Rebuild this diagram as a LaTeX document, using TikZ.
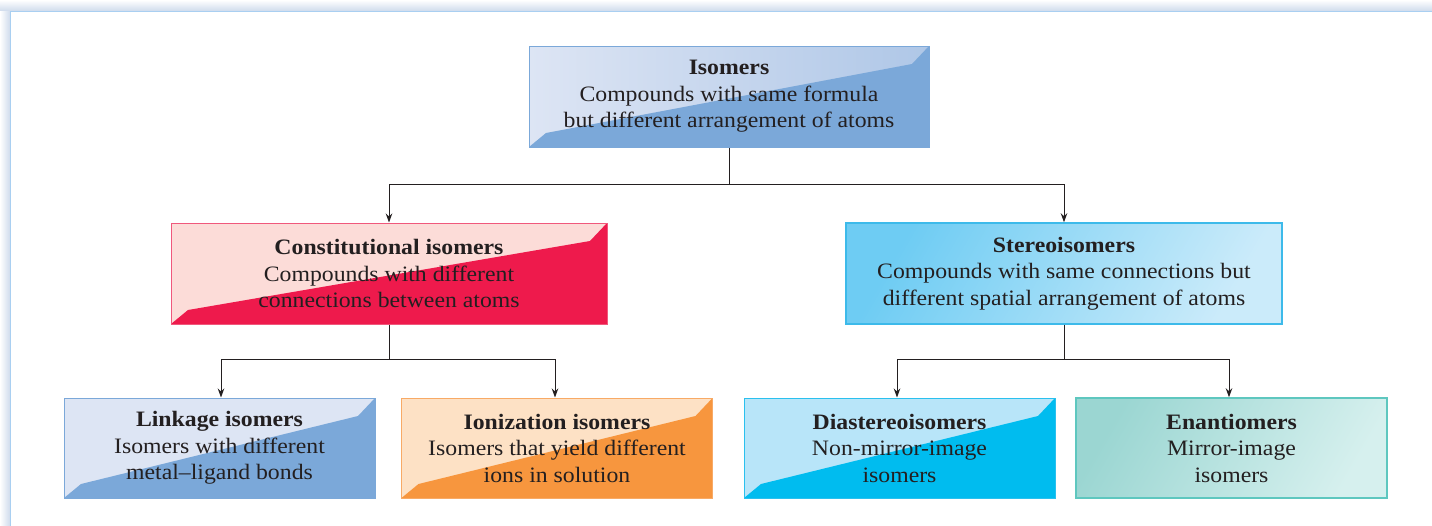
\documentclass[tikz,border=0pt]{standalone}
\usepackage{fontspec}
\setmainfont{Liberation Serif}[FakeStretch=1.08]
\usetikzlibrary{calc,arrows.meta}
\definecolor{txt}{HTML}{231F20}
\definecolor{framec}{HTML}{A9CFF1}
\definecolor{shadowc}{HTML}{CFDBEC}
\definecolor{isoL}{HTML}{DDE5F4}
\definecolor{isoR}{HTML}{AFC7E7}
\definecolor{isoD}{HTML}{7BA8D9}
\definecolor{conL}{HTML}{FCDCD8}
\definecolor{conD}{HTML}{EE1A4C}
\definecolor{conB}{HTML}{F0587C}
\definecolor{steL}{HTML}{6ECCF3}
\definecolor{steR}{HTML}{CBEBFA}
\definecolor{steB}{HTML}{3DBAEA}
\definecolor{ionL}{HTML}{FDE1C5}
\definecolor{ionD}{HTML}{F7963E}
\definecolor{ionB}{HTML}{F8AA66}
\definecolor{diaL}{HTML}{B8E5F9}
\definecolor{diaD}{HTML}{00BCEF}
\definecolor{diaB}{HTML}{2AC0EE}
\definecolor{enaL}{HTML}{9BD6D2}
\definecolor{enaR}{HTML}{D6F0EE}
\definecolor{enaB}{HTML}{5EC7BF}
\definecolor{linec}{HTML}{231F20}
\tikzset{
  box/.style={rectangle, inner sep=0pt, text=txt, align=center,
    font=\fontsize{22}{26.5}\selectfont, line width=1pt},
  bigbox/.style={box, minimum width=436pt, minimum height=101pt},
  smallbox/.style={box, minimum width=311pt, minimum height=100pt},
  split/.style={path picture={
    \fill[#1] (path picture bounding box.south west) -- ++(17pt,14pt)
      -- ($(path picture bounding box.north east)+(-17pt,-18pt)$)
      -- (path picture bounding box.north east)
      -- (path picture bounding box.south east) -- cycle;}},
  conn/.style={draw=linec, line width=0.9pt},
  arr/.style={conn, -{Stealth[length=9pt,width=6.5pt]}}
}
\begin{document}
\begin{tikzpicture}[x=1pt,y=-1pt]
\useasboundingbox (0,0) rectangle (1432,525);
% frame and its shadow
\shade[top color=white, bottom color=shadowc] (0,0) rectangle (1432,11);
\shade[left color=white, right color=shadowc] (0,11) rectangle (10,525);
\draw[framec, line width=1.6pt] (1440,11.5) -- (10.5,11.5) -- (10.5,530);

% boxes
\node[box, minimum width=400pt, minimum height=101pt, left color=isoL, right color=isoR, split=isoD, draw=isoD] (iso) at (729,96.5)
  {\bfseries Isomers\\Compounds with same formula\\but different arrangement of atoms};
\node[bigbox, fill=conL, split=conD, draw=conB] (con) at (389,273.5)
  {\bfseries Constitutional isomers\\Compounds with different\\connections between atoms};
\node[bigbox, left color=steL, right color=steR, shading angle=60, draw=steB, line width=1.5pt] (ste) at (1064,273.5)
  {\bfseries Stereoisomers\\Compounds with same connections but\\different spatial arrangement of atoms};
\node[smallbox, fill=isoL, split=isoD, draw=isoD] (lin) at (219.5,448)
  {\bfseries Linkage isomers\\Isomers with different\\metal--ligand bonds};
\node[smallbox, fill=ionL, split=ionD, draw=ionB] (ion) at (557,448)
  {\bfseries Ionization isomers\\Isomers that yield different\\ions in solution};
\node[smallbox, fill=diaL, split=diaD, draw=diaB] (dia) at (899.5,448)
  {\bfseries Diastereoisomers\\Non-mirror-image\\isomers};
\node[smallbox, left color=enaL, right color=enaR, shading angle=60, draw=enaB, line width=1.5pt] (ena) at (1231.5,448)
  {\bfseries Enantiomers\\Mirror-image\\isomers};

% connectors
\coordinate (j1) at (729,184);
\coordinate (j2) at (389,359);
\coordinate (j3) at (1064,359);
\draw[conn] (iso.south) -- (j1);
\draw[arr] (j1) -| (con.north);
\draw[arr] (j1) -| (ste.north);
\draw[conn] (con.south) -- (j2);
\draw[arr] (j2) -| ($(lin.north)+(1.5,0)$);
\draw[arr] (j2) -| ($(ion.north)+(-2,0)$);
\draw[conn] (ste.south) -- (j3);
\draw[arr] (j3) -| ($(dia.north)+(-2.5,0)$);
\draw[arr] (j3) -| ($(ena.north)+(-2.5,0)$);
\end{tikzpicture}
\end{document}
